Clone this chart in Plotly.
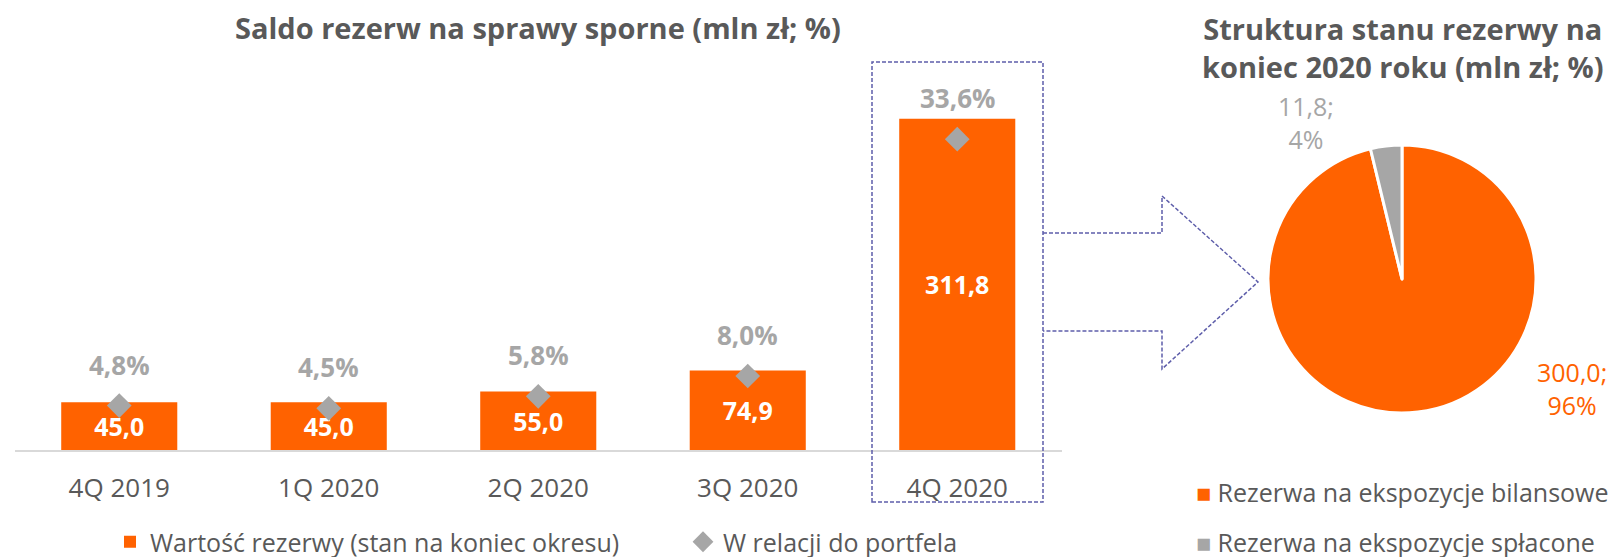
import plotly.graph_objects as go

W, H = 1624, 557
# the page body has a default 8px margin, so the figure is drawn 8px right/down;
# compensate so that the visible layout lines up with the target canvas
OX, OY = 8, 8

# ---------------- data ----------------
quarters = ["4Q 2019", "1Q 2020", "2Q 2020", "3Q 2020", "4Q 2020"]
reserve_values = [45.0, 45.0, 55.0, 74.9, 311.8]          # mln zł
portfolio_ratio = [4.8, 4.5, 5.8, 8.0, 33.6]               # %
bar_series_name = "Wartość rezerwy (stan na koniec okresu)"
ratio_series_name = "W relacji do portfela"

pie_labels = ["Rezerwa na ekspozycje bilansowe", "Rezerwa na ekspozycje spłacone"]
pie_values = [300.0, 11.8]
pie_shares = [96, 4]

title_left = "Saldo rezerw na sprawy sporne (mln zł; %)"
title_right = "Struktura stanu rezerwy na<br>koniec 2020 roku (mln zł; %)"

# ---------------- style ----------------
ORANGE = "#FF6200"
GREY = "#A6A6A6"
TEXT = "#595959"
DASH_COLOR = "#5E5EAA"
FONT = "Open Sans"


def fx(x):
    return (x - OX) / W


def fy(y):
    return 1 - (y - OY) / H


def pl(v, d=1):
    return f"{v:.{d}f}".replace(".", ",")


fig = go.Figure()

fig.add_trace(go.Bar(
    x=quarters, y=reserve_values, name=bar_series_name,
    marker=dict(color=ORANGE, line=dict(width=0)),
    text=[pl(v) for v in reserve_values],
    textposition="inside", insidetextanchor="middle",
    textfont=dict(color="white", size=25, family=FONT, weight="bold"),
    constraintext="none",
    legend="legend",
))

fig.add_trace(go.Scatter(
    x=quarters, y=portfolio_ratio, name=ratio_series_name, yaxis="y2",
    mode="markers",
    marker=dict(symbol="diamond", size=19, color=GREY),
    legend="legend",
))

fig.add_trace(go.Pie(
    labels=pie_labels, values=pie_values,
    marker=dict(colors=[ORANGE, GREY], line=dict(color="white", width=3)),
    sort=False, direction="clockwise", rotation=0,
    textinfo="none", hoverinfo="label+value+percent",
    domain=dict(x=[fx(1268), fx(1536)], y=[fy(413), fy(145)]),
    showlegend=False,
))

annotations = []
# percentage labels above diamonds
for q, r in zip(quarters, portfolio_ratio):
    annotations.append(dict(
        x=q, y=r, xref="x", yref="y2", text=pl(r) + "%", showarrow=False,
        yshift=41, yanchor="middle",
        font=dict(color=GREY, size=26, family=FONT, weight="bold"),
    ))

# titles
annotations.append(dict(
    x=fx(538), y=fy(27), xref="paper", yref="paper", text=title_left,
    showarrow=False, xanchor="center", yanchor="middle",
    font=dict(color=TEXT, size=29, family=FONT, weight="bold"),
))
annotations.append(dict(
    x=fx(1402), y=fy(47), xref="paper", yref="paper", text=title_right,
    showarrow=False, xanchor="center", yanchor="middle",
    font=dict(color=TEXT, size=29, family=FONT, weight="bold"),
))

# pie labels
annotations.append(dict(
    x=fx(1306), y=fy(122), xref="paper", yref="paper",
    text=f"{pl(pie_values[1])};<br>{pie_shares[1]}%",
    showarrow=False, xanchor="center", yanchor="middle",
    font=dict(color=GREY, size=25, family=FONT),
))
annotations.append(dict(
    x=fx(1572), y=fy(388), xref="paper", yref="paper",
    text=f"{pl(pie_values[0])};<br>{pie_shares[0]}%",
    showarrow=False, xanchor="center", yanchor="middle",
    font=dict(color=ORANGE, size=25, family=FONT),
))

# pie legend (text entries with coloured squares)
for lab, col, yy in zip(pie_labels, [ORANGE, GREY], [492, 542]):
    annotations.append(dict(
        x=fx(1194), y=fy(yy), xref="paper", yref="paper",
        text=f"<span style='color:{col};font-size:25px'>■</span> {lab}",
        showarrow=False, xanchor="left", yanchor="middle",
        font=dict(color=TEXT, size=25, family=FONT),
    ))

shapes = [
    # dashed frame around 4Q 2020
    dict(type="rect", xref="paper", yref="paper",
         x0=fx(872), x1=fx(1043), y0=fy(502), y1=fy(62),
         line=dict(color=DASH_COLOR, width=1.5, dash="4px,2px")),
    # dashed arrow towards the pie
    dict(type="path", xref="paper", yref="paper",
         path=(f"M{fx(1043)},{fy(233)} L{fx(1162)},{fy(233)} L{fx(1162)},{fy(196)} "
               f"L{fx(1258)},{fy(282)} L{fx(1162)},{fy(369)} L{fx(1162)},{fy(331)} "
               f"L{fx(1043)},{fy(331)}"),
         line=dict(color=DASH_COLOR, width=1.5, dash="4px,2px")),
]

fig.update_layout(
    width=W, height=H,
    margin=dict(l=0, r=0, t=0, b=0),
    paper_bgcolor="white", plot_bgcolor="white",
    font=dict(family=FONT, color=TEXT),
    bargap=0.446,
    xaxis=dict(
        domain=[fx(14.5), fx(1062)],
        showline=True, linecolor="#D9D9D9", linewidth=2,
        showgrid=False, zeroline=False, ticks="",
        tickfont=dict(size=26, color=TEXT, family=FONT),
        ticklabelstandoff=14,
        fixedrange=True,
    ),
    yaxis=dict(
        domain=[fy(450), fy(60)], range=[0, 367.2],
        visible=False, showgrid=False, zeroline=False, fixedrange=True,
    ),
    yaxis2=dict(
        overlaying="y", range=[0, 42.16],
        visible=False, showgrid=False, zeroline=False, fixedrange=True,
    ),
    legend=dict(
        orientation="h", x=fx(110), y=fy(542), xanchor="left", yanchor="middle",
        font=dict(size=25, color=TEXT, family=FONT),
        bgcolor="rgba(0,0,0,0)", entrywidth=528, itemclick=False,
    ),
    annotations=annotations,
    shapes=shapes,
    showlegend=True,
)

fig.write_html("out.html")
